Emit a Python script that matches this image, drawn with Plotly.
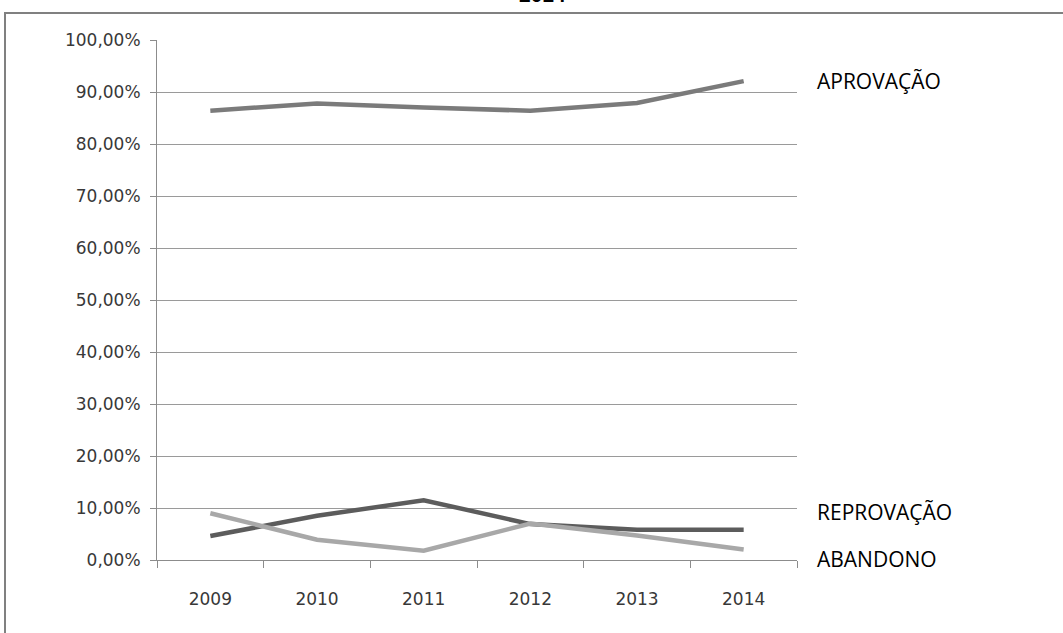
import plotly.graph_objects as go

# Series values (fraction of students), one point per school year
years = ["2009", "2010", "2011", "2012", "2013", "2014"]
aprovacao = [0.864, 0.878, 0.870, 0.864, 0.879, 0.921]
reprovacao = [0.046, 0.085, 0.115, 0.069, 0.058, 0.058]
abandono = [0.090, 0.039, 0.018, 0.070, 0.047, 0.020]

series_names = ["APROVAÇÃO", "REPROVAÇÃO", "ABANDONO"]
y_ticks = [i / 10 for i in range(11)]
y_tick_text = [f"{int(v * 100)},00%" for v in y_ticks]

W, H = 1063, 633
L, R, T, B = 157, 797, 40, 560  # plot area in pixels


def px_x(x):
    return (x - L) / (R - L)


def px_y(y):
    return (B - y) / (B - T)


fig = go.Figure()
line_colors = ["#7b7b7b", "#5c5c5c", "#a8a8a8"]
for name, vals, col in zip(series_names, [aprovacao, reprovacao, abandono], line_colors):
    fig.add_trace(go.Scatter(
        x=years, y=vals, mode="lines", name=name,
        line=dict(color=col, width=4.5),
        hoverinfo="skip",
    ))

# series names written at the right of the plot (pixel rows of the text centres)
label_rows = [81, 512, 559]
for name, row in zip(series_names, label_rows):
    fig.add_annotation(
        x=px_x(815), xref="paper", y=px_y(row), yref="paper",
        text=name, showarrow=False, xanchor="left", yanchor="middle",
        font=dict(family="Open Sans, Lato, sans-serif", size=21, color="#000000"),
    )

# chart title, partly above the page edge
fig.add_annotation(
    x=px_x(542), xref="paper", y=px_y(-6), yref="paper",
    text="<b>2014</b>", showarrow=False, xanchor="center", yanchor="middle",
    font=dict(family="Liberation Sans, Arial, sans-serif", size=21, color="#000000"),
)

# outer chart frame
fig.add_shape(
    type="rect", xref="paper", yref="paper",
    x0=px_x(5), x1=px_x(1080), y0=px_y(13), y1=px_y(650),
    line=dict(color="#808080", width=2), fillcolor="rgba(0,0,0,0)", layer="below",
)

tick_font = dict(family="DejaVu Sans, sans-serif", size=17, color="#383838")

fig.update_layout(
    width=W, height=H,
    margin=dict(l=L, r=W - R, t=T, b=H - B, pad=0),
    paper_bgcolor="#ffffff", plot_bgcolor="#ffffff",
    showlegend=False,
    xaxis=dict(
        type="category", range=[-0.5, 5.5],
        showgrid=False, showline=True, linecolor="#8c8c8c", linewidth=1,
        ticks="outside", ticklen=7, tickcolor="#8c8c8c", tickson="boundaries",
        tickfont=tick_font, ticklabelstandoff=24,
        zeroline=False, fixedrange=True,
    ),
    yaxis=dict(
        range=[0, 1], tickvals=y_ticks, ticktext=y_tick_text,
        showgrid=True, gridcolor="#9a9a9a", gridwidth=1,
        showline=True, linecolor="#8c8c8c", linewidth=1,
        ticks="outside", ticklen=6, tickcolor="#8c8c8c",
        tickfont=tick_font, ticklabelstandoff=6,
        zeroline=False, fixedrange=True,
    ),
)

fig.write_html("out.html")
